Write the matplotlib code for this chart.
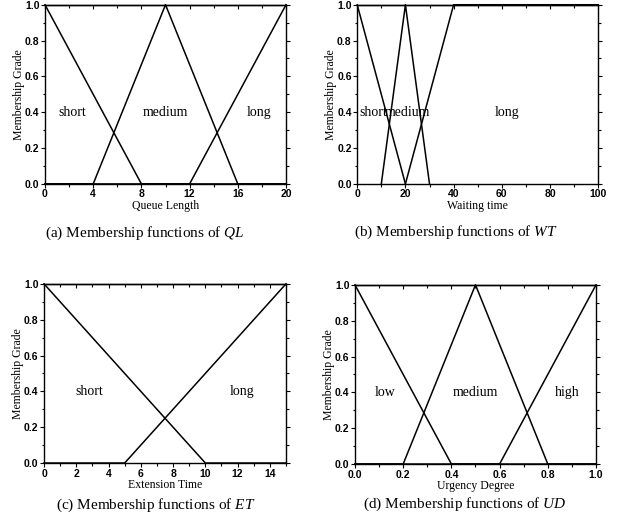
import matplotlib
matplotlib.use('Agg')
import matplotlib.pyplot as plt
from matplotlib.ticker import MultipleLocator

# ---------------------------------------------------------------------------
# Datos: funciones de pertenencia (puntos de quiebre)
# ---------------------------------------------------------------------------
ql_short_x, ql_short_y = [0, 8, 20], [1, 0, 0]
ql_medium_x, ql_medium_y = [0, 4, 10, 16, 20], [0, 0, 1, 0, 0]
ql_long_x, ql_long_y = [0, 12, 20], [0, 0, 1]

wt_short_x, wt_short_y = [0, 20], [1, 0]
wt_medium_x, wt_medium_y = [10, 20, 30], [0, 1, 0]
wt_long_x, wt_long_y = [20, 40, 100], [0, 1, 1]

et_short_x, et_short_y = [0, 10, 15], [1, 0, 0]
et_long_x, et_long_y = [0, 5, 15], [0, 0, 1]

ud_low_x, ud_low_y = [0, 0.4, 1.0], [1, 0, 0]
ud_medium_x, ud_medium_y = [0, 0.2, 0.5, 0.8, 1.0], [0, 0, 1, 0, 0]
ud_high_x, ud_high_y = [0, 0.6, 1.0], [0, 0, 1]

ql_ticks = [0, 4, 8, 12, 16, 20]
wt_ticks = [0, 20, 40, 60, 80, 100]
et_ticks = [0, 2, 4, 6, 8, 10, 12, 14]
ud_ticks = [0.0, 0.2, 0.4, 0.6, 0.8, 1.0]
ud_tick_labels = ['0.0', '0.2', '0.4', '0.6', '0.8', '1.0']
y_ticks = [0.0, 0.2, 0.4, 0.6, 0.8, 1.0]
y_tick_labels = ['0.0', '0.2', '0.4', '0.6', '0.8', '1.0']

# etiquetas de los conjuntos: (texto, x, y)
ql_labels = [('short', 2.3, 0.4), ('medium', 10.0, 0.4), ('long', 17.8, 0.4)]
wt_labels = [('short', 6.6, 0.4), ('medium', 21.0, 0.4), ('long', 62.0, 0.4)]
et_labels = [('short', 2.8, 0.4), ('long', 12.25, 0.4)]
ud_labels = [('low', 0.125, 0.4), ('medium', 0.5, 0.4), ('high', 0.88, 0.4)]

plt.rcParams['font.family'] = ['Liberation Serif', 'DejaVu Serif']
plt.rcParams['mathtext.fontset'] = 'custom'
plt.rcParams['mathtext.it'] = 'Liberation Serif:italic'
plt.rcParams['mathtext.rm'] = 'Liberation Serif'

fig = plt.figure(figsize=(6.18, 5.27), dpi=100)

posiciones = [
    [0.0728, 0.651, 0.390, 0.340],
    [0.578, 0.651, 0.390, 0.340],
    [0.0712, 0.1214, 0.3916, 0.340],
    [0.5744, 0.1195, 0.390, 0.340],
]

paneles = [
    dict(curvas=[(ql_short_x, ql_short_y), (ql_medium_x, ql_medium_y), (ql_long_x, ql_long_y)],
         xlim=(0, 20), ticks=ql_ticks, tlabels=[str(t) for t in ql_ticks], minor=2,
         xlabel='Queue Length', etiquetas=ql_labels),
    dict(curvas=[(wt_short_x, wt_short_y), (wt_medium_x, wt_medium_y), (wt_long_x, wt_long_y)],
         xlim=(0, 100), ticks=wt_ticks, tlabels=[str(t) for t in wt_ticks], minor=10,
         xlabel='Waiting time', etiquetas=wt_labels),
    dict(curvas=[(et_short_x, et_short_y), (et_long_x, et_long_y)],
         xlim=(0, 15), ticks=et_ticks, tlabels=[str(t) for t in et_ticks], minor=1,
         xlabel='Extension Time', etiquetas=et_labels),
    dict(curvas=[(ud_low_x, ud_low_y), (ud_medium_x, ud_medium_y), (ud_high_x, ud_high_y)],
         xlim=(0, 1.0), ticks=ud_ticks, tlabels=ud_tick_labels, minor=0.1,
         xlabel='Urgency Degree', etiquetas=ud_labels),
]

for pos, p in zip(posiciones, paneles):
    ax = fig.add_axes(pos)
    for xs, ys in p['curvas']:
        ax.plot(xs, ys, color='black', linewidth=1.1, clip_on=False)
    ax.set_xlim(*p['xlim'])
    ax.set_ylim(0, 1)
    ax.set_xticks(p['ticks'])
    ax.set_xticklabels(p['tlabels'], fontweight='bold', family='Liberation Sans', fontsize=7.5)
    ax.set_yticks(y_ticks)
    ax.set_yticklabels(y_tick_labels, fontweight='bold', family='Liberation Sans', fontsize=7.5)
    ax.xaxis.set_minor_locator(MultipleLocator(p['minor']))
    ax.yaxis.set_minor_locator(MultipleLocator(0.1))
    ax.tick_params(which='both', direction='out', right=True, width=0.8, pad=1)
    ax.tick_params(which='major', length=3)
    ax.tick_params(which='minor', length=1.8)
    # ticks superiores hacia adentro
    top = ax.secondary_xaxis('top')
    top.set_xticks(p['ticks'])
    top.xaxis.set_minor_locator(MultipleLocator(p['minor']))
    top.tick_params(which='both', direction='in', labeltop=False, width=0.8)
    top.tick_params(which='major', length=3)
    top.tick_params(which='minor', length=1.8)
    top.spines['top'].set_linewidth(1.0)
    for s in ax.spines.values():
        s.set_linewidth(1.0)
    ax.set_xlabel(p['xlabel'], fontsize=8.5, labelpad=0.5)
    ax.set_ylabel('Membership Grade', fontsize=8.5, labelpad=0)
    for txt, x, y in p['etiquetas']:
        ax.text(x, y, txt, fontsize=10, ha='center', va='center')

# Leyendas de cada subfigura
fig.text(145 / 618, 1 - 233 / 527, r'(a) Membership functions of $QL$', ha='center', va='center', fontsize=11)
fig.text(456 / 618, 1 - 232 / 527, r'(b) Membership functions of $WT$', ha='center', va='center', fontsize=11)
fig.text(156 / 618, 1 - 505 / 527, r'(c) Membership functions of $ET$', ha='center', va='center', fontsize=11)
fig.text(465 / 618, 1 - 504 / 527, r'(d) Membership functions of $UD$', ha='center', va='center', fontsize=11)

plt.savefig('out.png', dpi=100)
